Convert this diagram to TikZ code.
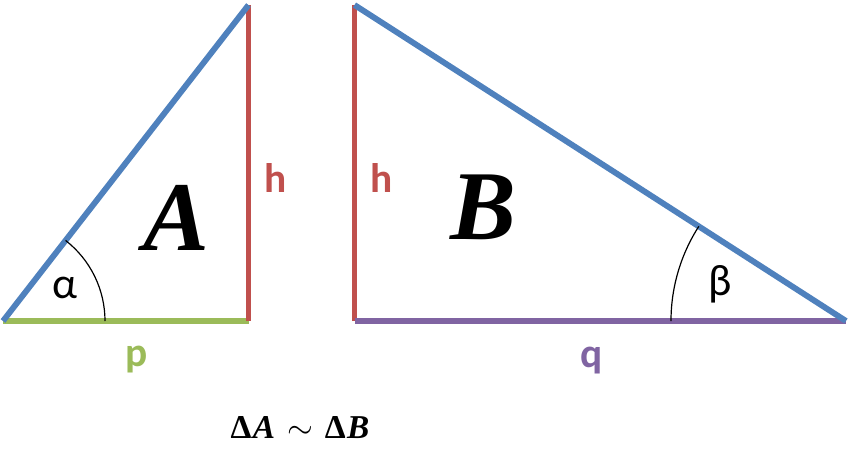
\documentclass[tikz,border=0pt]{standalone}
\usepackage{amsmath}
\usepackage{fontspec}
\usepackage{xcolor}
\usepackage{tikz}
\usetikzlibrary{calc}
\setmainfont{Liberation Serif}
\newfontfamily\calibfont{Carlito}
\definecolor{sideblue}{RGB}{79,129,189}
\definecolor{sidered}{RGB}{192,80,77}
\definecolor{sidegreen}{RGB}{155,187,89}
\definecolor{sidepurple}{RGB}{128,100,162}

\begin{document}
\begin{tikzpicture}[x=0.75pt,y=0.75pt,yscale=-1,xscale=1,
  side/.style={line width=4.4pt},
  anglearc/.style={line width=0.9pt,black},
  sidelbl/.style={inner sep=0pt,font=\calibfont\bfseries\fontsize{31}{34}\selectfont},
  anglelbl/.style={inner sep=0pt,font=\calibfont\fontsize{33}{36}\selectfont},
  trilbl/.style={inner sep=0pt,font=\bfseries\itshape\fontsize{74}{80}\selectfont}]
\useasboundingbox (0,0) rectangle (850,458);

% corners of triangle A
\coordinate (pA) at (3,321);
\coordinate (rA) at (248.5,321);
\coordinate (tA) at (248.5,5);
% corners of triangle B
\coordinate (tB) at (354.5,5);
\coordinate (rB) at (354.5,321);
\coordinate (qB) at (846,321);

\draw [side,sidegreen] (pA) -- (rA) ;
\draw [side,sidered] (rA) -- (tA) ;
\draw [side,sideblue] (pA) -- (tA) ;

\draw [side,sidered] (rB) -- (tB) ;
\draw [side,sidepurple] (rB) -- (qB) ;
\draw [side,sideblue] (tB) -- (qB) ;

\draw [anglearc] ($(pA)+(102,0)$) arc [start angle=0,end angle=-52.16,radius=102] ;
\draw [anglearc] ($(qB)+(-175,0)$) arc [start angle=180,end angle=212.74,radius=175] ;

\node [anglelbl] (alpha) at (64.5,288) {α};
\node [anglelbl] (beta) at (720,284) {β};
\node [sidelbl,text=sidered] (hA) at (276,178) {h};
\node [sidelbl,text=sidered] (hB) at (381.5,178) {h};
\node [sidelbl,text=sidegreen] (p) at (137,360) {p};
\node [sidelbl,text=sidepurple] (q) at (591.5,361) {q};
\node [trilbl] (A) at (176,218) {A};
\node [trilbl] (B) at (483,207) {B};
\node [inner sep=0pt,font=\bfseries\fontsize{25}{28}\selectfont] (simAB) at (300,428) {Δ\kern1pt\textit{A}\hspace{9pt}$\sim$\hspace{9pt}Δ\kern1pt\textit{B}};
\end{tikzpicture}
\end{document}
